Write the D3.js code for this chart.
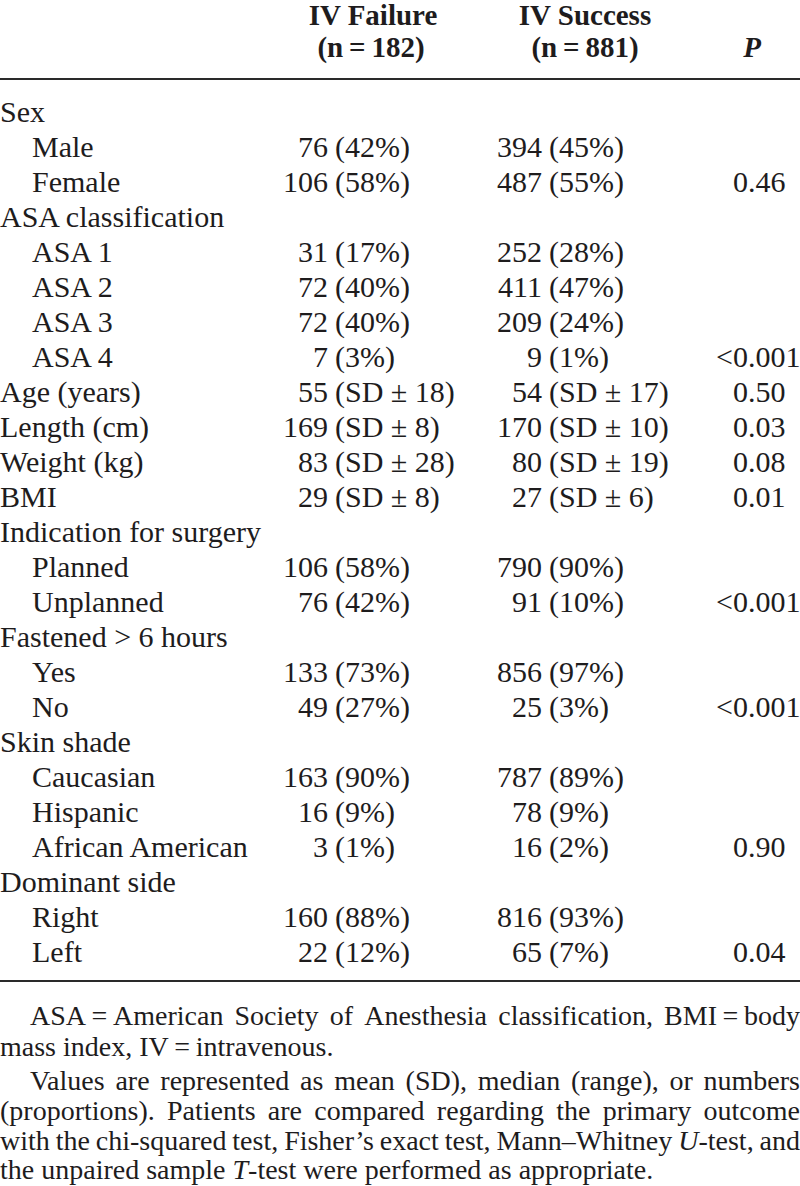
<!DOCTYPE html>
<html>
<head>
<meta charset="utf-8">
<script src="https://cdn.jsdelivr.net/npm/d3@7"></script>
<style>
  html, body { margin: 0; padding: 0; background: #fff; }
  svg { display: block; }
</style>
</head>
<body>
<svg id="chart" width="800" height="1186"></svg>
<script>
// ---------- DATA ----------
const rowLabels = ["Sex", "Male", "Female", "ASA classification", "ASA 1", "ASA 2", "ASA 3", "ASA 4",
  "Age (years)", "Length (cm)", "Weight (kg)", "BMI", "Indication for surgery", "Planned", "Unplanned",
  "Fastened > 6 hours", "Yes", "No", "Skin shade", "Caucasian", "Hispanic", "African American",
  "Dominant side", "Right", "Left"];
const rowLevel = [0,1,1,0,1,1,1,1,0,0,0,0,0,1,1,0,1,1,0,1,1,1,0,1,1];
const failureValue = [null, 76, 106, null, 31, 72, 72, 7, 55, 169, 83, 29, null, 106, 76, null, 133, 49, null, 163, 16, 3, null, 160, 22];
const failureDetail = [null, "(42%)", "(58%)", null, "(17%)", "(40%)", "(40%)", "(3%)", "(SD ± 18)", "(SD ± 8)", "(SD ± 28)", "(SD ± 8)", null, "(58%)", "(42%)", null, "(73%)", "(27%)", null, "(90%)", "(9%)", "(1%)", null, "(88%)", "(12%)"];
const successValue = [null, 394, 487, null, 252, 411, 209, 9, 54, 170, 80, 27, null, 790, 91, null, 856, 25, null, 787, 78, 16, null, 816, 65];
const successDetail = [null, "(45%)", "(55%)", null, "(28%)", "(47%)", "(24%)", "(1%)", "(SD ± 17)", "(SD ± 10)", "(SD ± 19)", "(SD ± 6)", null, "(90%)", "(10%)", null, "(97%)", "(3%)", null, "(89%)", "(9%)", "(2%)", null, "(93%)", "(7%)"];
const pValues = [null, null, "0.46", null, null, null, null, "<0.001", "0.50", "0.03", "0.08", "0.01", null, null, "<0.001", null, null, "<0.001", null, null, null, "0.90", null, null, "0.04"];

const headerTop = ["IV Failure", "IV Success"];
const headerBottom = ["(n\u2009=\u2009182)", "(n\u2009=\u2009881)", "P"];

const footnoteLines = [
  "ASA\u2009=\u2009American Society of Anesthesia classification, BMI\u2009=\u2009body",
  "mass index, IV\u2009=\u2009intravenous.",
  "Values are represented as mean (SD), median (range), or numbers",
  "(proportions). Patients are compared regarding the primary outcome",
  "with the chi-squared test, Fisher’s exact test, Mann–Whitney *U*-test, and",
  "the unpaired sample *T*-test were performed as appropriate."
];
const footnoteIndent = [true, false, true, false, false, false];
const footnoteJustify = [true, false, true, true, true, false];

// ---------- LAYOUT ----------
const W = 800;
const FONT = "'Liberation Serif', 'Times New Roman', serif";
const ink = "#1e1c1d";
const svg = d3.select("#chart");

const y = d3.scaleLinear().domain([0, rowLabels.length - 1]).range([122, 962]);
const colX = { label: 0, indent: 32, failNum: 328, succNum: 542, pDot: 748, gap: 7 };

// Header
const headerCenters = [373, 585];
svg.selectAll("text.htop").data(headerTop).join("text")
  .attr("class", "htop")
  .attr("x", (d, i) => headerCenters[i]).attr("y", 25)
  .attr("text-anchor", "middle")
  .style("font-family", FONT).style("font-size", "29px").style("font-weight", "bold").style("fill", ink)
  .text(d => d);
const hbX = [371, 585, 752];
svg.selectAll("text.hbot").data(headerBottom).join("text")
  .attr("class", "hbot")
  .attr("x", (d, i) => hbX[i]).attr("y", 57)
  .attr("text-anchor", "middle")
  .style("font-family", FONT).style("font-size", "29px").style("font-weight", "bold")
  .style("font-style", (d, i) => i === 2 ? "italic" : "normal").style("fill", ink)
  .text(d => d);

// Rules
svg.append("line").attr("x1", 0).attr("x2", W).attr("y1", 79).attr("y2", 79)
  .attr("stroke", "#2a2a2a").attr("stroke-width", 2.2);
svg.append("line").attr("x1", 0).attr("x2", W).attr("y1", 981).attr("y2", 981)
  .attr("stroke", "#2a2a2a").attr("stroke-width", 2.2);

// Rows
const rows = svg.selectAll("g.row").data(rowLabels).join("g")
  .attr("class", "row")
  .attr("transform", (d, i) => `translate(0,${y(i)})`)
  .style("font-family", FONT).style("font-size", "30px").style("fill", ink);

rows.append("text")
  .attr("x", (d, i) => rowLevel[i] ? colX.indent : colX.label)
  .text(d => d);

function addCell(sel, values, details, numX) {
  sel.each(function(d, i) {
    if (values[i] === null) return;
    const g = d3.select(this);
    g.append("text").attr("x", numX).attr("text-anchor", "end").text(values[i]);
    g.append("text").attr("x", numX + colX.gap).text(details[i]);
  });
}
addCell(rows, failureValue, failureDetail, colX.failNum);
addCell(rows, successValue, successDetail, colX.succNum);

// P values aligned on decimal point
rows.each(function(d, i) {
  const p = pValues[i];
  if (!p) return;
  const g = d3.select(this);
  const k = p.indexOf(".");
  g.append("text").attr("x", colX.pDot).attr("text-anchor", "end").text(p.slice(0, k));
  g.append("text").attr("x", colX.pDot).text(p.slice(k));
});

// Footnotes (justified)
const footY = [1025, 1056, 1090, 1120, 1150, 1179];
footnoteLines.forEach((line, li) => {
  const left = footnoteIndent[li] ? 30 : 0;
  const g = svg.append("g").style("font-family", FONT).style("font-size", "28px").style("fill", ink);
  const words = line.split(" ");
  const nodes = words.map(w => {
    const t = g.append("text").attr("y", footY[li]);
    w.split("*").forEach((seg, si) => {
      if (!seg) return;
      t.append("tspan").style("font-style", si % 2 ? "italic" : "normal").text(seg);
    });
    return t;
  });
  const widths = nodes.map(n => n.node().getComputedTextLength());
  const total = d3.sum(widths);
  const spaceW = 7;
  const gap = footnoteJustify[li] && words.length > 1 ? (W - left - total) / (words.length - 1) : spaceW;
  let x = left;
  nodes.forEach((n, i) => { n.attr("x", x); x += widths[i] + gap; });
});
</script>
</body>
</html>
